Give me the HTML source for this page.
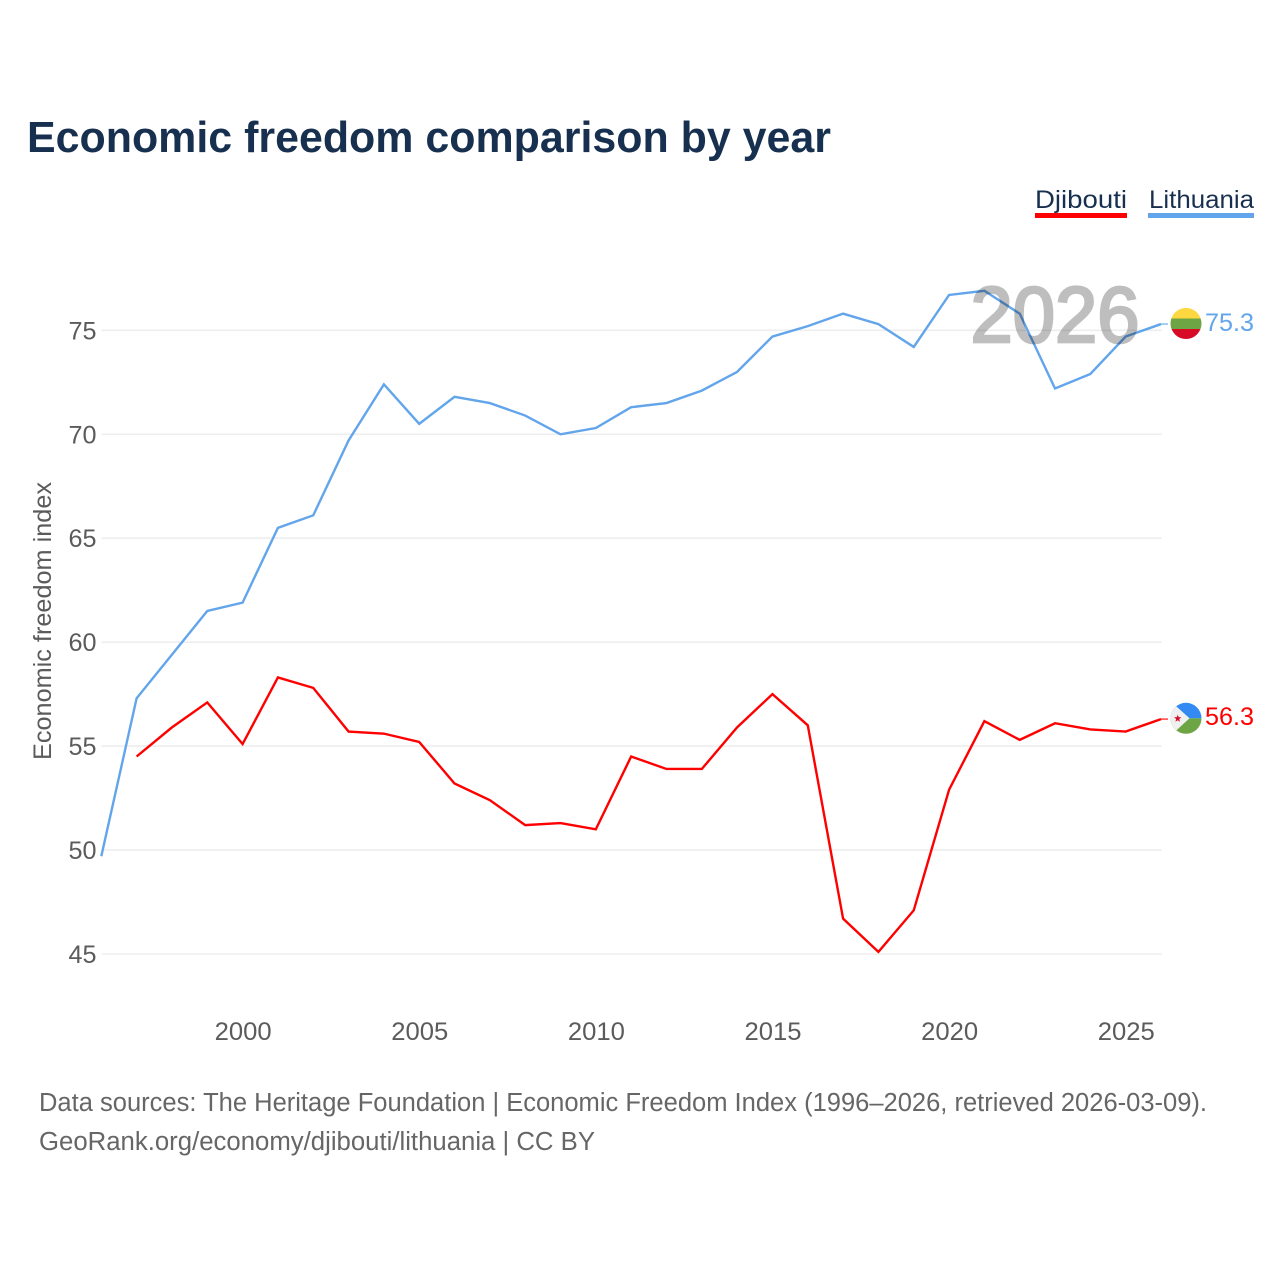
<!DOCTYPE html>
<html lang="en">
<head>
<meta charset="utf-8">
<title>Economic freedom comparison by year</title>
<style>
html,body{margin:0;padding:0;background:#fff;}
svg{display:block;}
text{font-family:"Liberation Sans",sans-serif;}
</style>
</head>
<body>
<svg id="chart" xmlns="http://www.w3.org/2000/svg" width="1280" height="1280" viewBox="0 0 1280 1280">
  <rect width="1280" height="1280" fill="#fff"/>
  <text x="27" y="152" font-size="44" font-weight="700" fill="#18304f" textLength="804" lengthAdjust="spacingAndGlyphs">Economic freedom comparison by year</text>

  <g id="grid"></g>
  <g id="ytick-labels"></g>
  <g id="xtick-labels"></g>
  <text transform="translate(51 621) rotate(-90)" text-anchor="middle" font-size="25" fill="#5b5b5b" textLength="278" lengthAdjust="spacingAndGlyphs">Economic freedom index</text>

  <g id="series"></g>

  <g opacity="0.25">
    <text x="970.5" y="342" font-size="79" font-weight="400" fill="#000" stroke="#000" stroke-width="2.8" textLength="169" lengthAdjust="spacingAndGlyphs">2026</text>
  </g>

  <g>
    <text x="1035" y="208" font-size="25" fill="#18304f" textLength="92" lengthAdjust="spacingAndGlyphs">Djibouti</text>
    <rect x="1035" y="213" width="92" height="5" fill="#ff0000"/>
  </g>
  <g>
    <text x="1149" y="208" font-size="25" fill="#18304f" textLength="105" lengthAdjust="spacingAndGlyphs">Lithuania</text>
    <rect x="1148" y="213" width="106" height="5" fill="#62a5eb"/>
  </g>

  <defs>
    <clipPath id="flag-clip-lt"><circle cx="1186" cy="323.5" r="15.5"/></clipPath>
    <clipPath id="flag-clip-dj"><circle cx="1186" cy="718.3" r="15.5"/></clipPath>
  </defs>
  <g clip-path="url(#flag-clip-lt)">
    <rect x="1170" y="307" width="32" height="12" fill="#fdd73f"/>
    <rect x="1170" y="318.5" width="32" height="11" fill="#6ea544"/>
    <rect x="1170" y="329" width="32" height="12" fill="#d80b27"/>
  </g>
  <g clip-path="url(#flag-clip-dj)">
    <rect x="1170" y="702" width="32" height="16.3" fill="#338af3"/>
    <rect x="1170" y="718.3" width="32" height="16.7" fill="#6da544"/>
    <polygon points="1167,698 1189.5,718.3 1167,739" fill="#f0f0f0"/>
    <polygon points="1177.7,714.7 1178.7,717.3 1181.4,717.3 1179.2,719.1 1180,721.8 1177.7,720.2 1175.4,721.8 1176.2,719.1 1174,717.3 1176.7,717.3" fill="#d80b27"/>
  </g>
  <text x="1205" y="331" font-size="25" fill="#62a5eb" textLength="49" lengthAdjust="spacingAndGlyphs">75.3</text>
  <text x="1205" y="725" font-size="25" fill="#ff0000" textLength="49" lengthAdjust="spacingAndGlyphs">56.3</text>

  <text x="39" y="1111" font-size="25.5" fill="#666" textLength="1168" lengthAdjust="spacingAndGlyphs">Data sources: The Heritage Foundation | Economic Freedom Index (1996–2026, retrieved 2026-03-09).</text>
  <text x="39" y="1150" font-size="25.5" fill="#666" textLength="556" lengthAdjust="spacingAndGlyphs">GeoRank.org/economy/djibouti/lithuania | CC BY</text>
</svg>
<script>
var years = [1996,1997,1998,1999,2000,2001,2002,2003,2004,2005,2006,2007,2008,2009,2010,2011,2012,2013,2014,2015,2016,2017,2018,2019,2020,2021,2022,2023,2024,2025,2026];
var lithuaniaValues = [49.7,57.3,59.4,61.5,61.9,65.5,66.1,69.7,72.4,70.5,71.8,71.5,70.9,70.0,70.3,71.3,71.5,72.1,73.0,74.7,75.2,75.8,75.3,74.2,76.7,76.9,75.8,72.2,72.9,74.7,75.3];
var djiboutiValues = [null,54.5,55.9,57.1,55.1,58.3,57.8,55.7,55.6,55.2,53.2,52.4,51.2,51.3,51.0,54.5,53.9,53.9,55.9,57.5,56.0,46.7,45.1,47.1,52.9,56.2,55.3,56.1,55.8,55.7,56.3];
var yTickValues = [45,50,55,60,65,70,75];
var xTickValues = [2000,2005,2010,2015,2020,2025];

var NS = 'http://www.w3.org/2000/svg';
function xScale(year) { return 101.3 + (year - 1996) * (1161 - 101.3) / 30; }
function yScale(value) { return 954 - (value - 45) * (954 - 330.3) / 30; }

var gridGroup = document.getElementById('grid');
var yLabelGroup = document.getElementById('ytick-labels');
var xLabelGroup = document.getElementById('xtick-labels');
var seriesGroup = document.getElementById('series');

yTickValues.forEach(function (v) {
  var line = document.createElementNS(NS, 'line');
  
  
  line.setAttribute('x1', 101.5);
  line.setAttribute('x2', 1162);
  line.setAttribute('y1', yScale(v));
  line.setAttribute('y2', yScale(v));
  line.setAttribute('stroke', '#eeeeee');
  line.setAttribute('stroke-width', '1.6');
  gridGroup.appendChild(line);

  var label = document.createElementNS(NS, 'text');
  
  
  label.setAttribute('x', 96.5);
  label.setAttribute('y', yScale(v) + 9);
  label.setAttribute('text-anchor', 'end');
  label.setAttribute('font-size', '25');
  label.setAttribute('fill', '#5b5b5b');
  label.setAttribute('textLength', '28');
  label.setAttribute('lengthAdjust', 'spacingAndGlyphs');
  label.textContent = String(v);
  yLabelGroup.appendChild(label);
});

xTickValues.forEach(function (yr) {
  var label = document.createElementNS(NS, 'text');
  
  
  label.setAttribute('x', xScale(yr) + 0.6);
  label.setAttribute('y', 1040);
  label.setAttribute('text-anchor', 'middle');
  label.setAttribute('font-size', '25');
  label.setAttribute('fill', '#5b5b5b');
  label.setAttribute('textLength', '57');
  label.setAttribute('lengthAdjust', 'spacingAndGlyphs');
  label.textContent = String(yr);
  xLabelGroup.appendChild(label);
});

function drawSeries(values, color, lineName, connectorName) {
  var pts = [];
  var lastValue = null;
  values.forEach(function (v, i) {
    if (v === null) { return; }
    pts.push(xScale(years[i]).toFixed(2) + ',' + yScale(v).toFixed(2));
    lastValue = v;
  });
  var path = document.createElementNS(NS, 'polyline');
  
  
  path.setAttribute('points', pts.join(' '));
  path.setAttribute('fill', 'none');
  path.setAttribute('stroke', color);
  path.setAttribute('stroke-width', '2.4');
  path.setAttribute('stroke-linejoin', 'miter');
  seriesGroup.appendChild(path);

  var connector = document.createElementNS(NS, 'line');
  
  
  connector.setAttribute('x1', xScale(years[years.length - 1]));
  connector.setAttribute('y1', yScale(lastValue));
  connector.setAttribute('x2', 1168);
  connector.setAttribute('y2', yScale(lastValue));
  connector.setAttribute('stroke', color);
  connector.setAttribute('stroke-width', '1.4');
  connector.setAttribute('stroke-opacity', '0.8');
  seriesGroup.appendChild(connector);
}

drawSeries(lithuaniaValues, '#62a5eb', 'line-lithuania', 'connector-lithuania');
drawSeries(djiboutiValues, '#ff0000', 'line-djibouti', 'connector-djibouti');
</script>
</body>
</html>
